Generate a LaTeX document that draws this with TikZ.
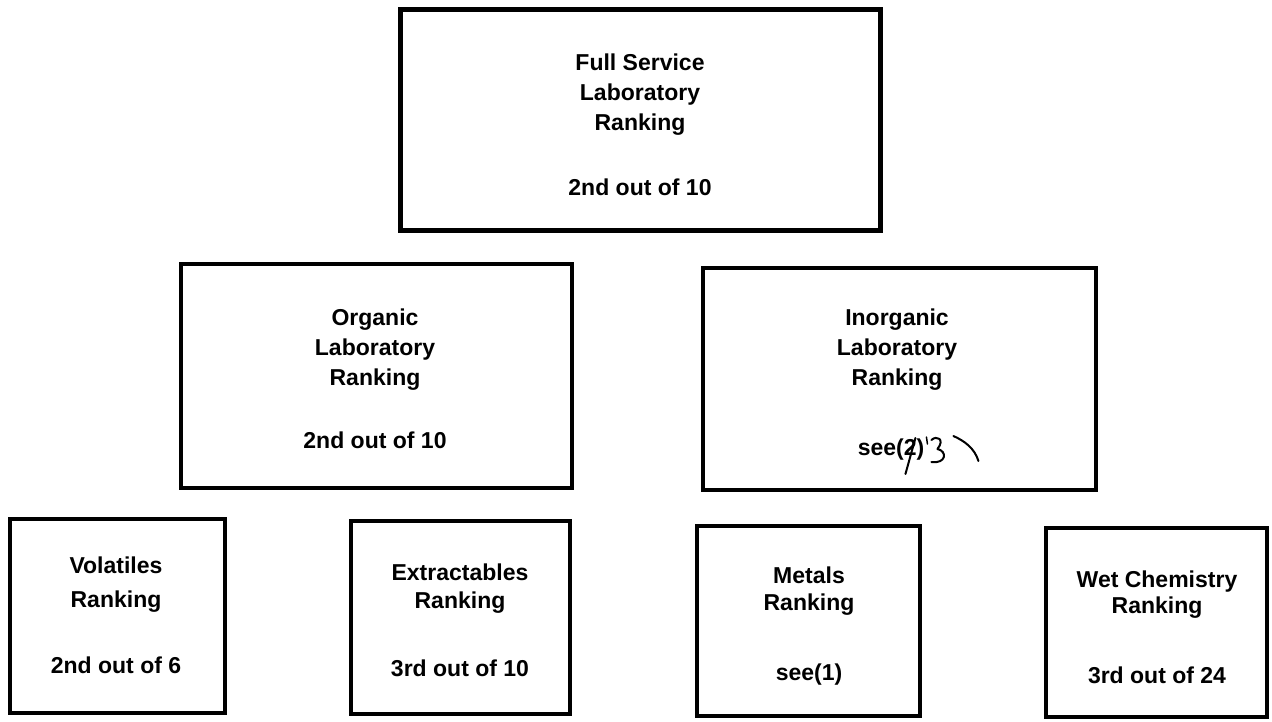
\documentclass[tikz,border=0pt]{standalone}
\usepackage{fontspec}
\setmainfont{Liberation Sans}
\begin{document}
\begin{tikzpicture}[x=1pt,y=-1pt,
  box/.style={draw, line width=4.5pt, inner sep=0pt},
  lbl/.style={align=center, inner sep=0pt, font=\bfseries\fontsize{23}{#1}\selectfont},
  lbl/.default=30,
  pen/.style={line width=2pt, line cap=round, line join=round}]
\useasboundingbox (0,0) rectangle (1272,721);

% top level
\node[box, line width=5pt, minimum width=480pt, minimum height=221pt] (full) at (640,119.5) {};
\node[lbl=30] (fullT) at (640,124.5) {Full Service\\Laboratory\\Ranking\\[35pt]2nd out of 10};

% second level
\node[box, minimum width=391pt, minimum height=224pt] (org) at (376.5,376) {};
\node[lbl=30] (orgT) at (375,378.5) {Organic\\Laboratory\\Ranking\\[33pt]2nd out of 10};

\node[box, minimum width=393pt, minimum height=222pt] (inorg) at (899.5,379) {};
\node[lbl=30] (inorgT) at (897,350) {Inorganic\\Laboratory\\Ranking};
\node[lbl] (isee) at (891,450) {see(2)};
% hand-written correction of the reference number
\begin{scope}[shift={(isee.east)}]
  \draw[pen] (-9,-12) -- (-19,24);
  \draw[pen, line width=1.5pt] (2,-13) -- (3,-6);
  \draw[pen] (7,-10) .. controls (12,-15) and (21,-11) .. (13,-1)
        .. controls (23,1) and (22,14) .. (7,12);
  \draw[pen] (29,-14) .. controls (40,-9) and (50,-2) .. (54,11);
\end{scope}

% third level
\node[box, minimum width=215pt, minimum height=194pt] (vol) at (117.5,616) {};
\node[lbl=34] (volT) at (116,615.5) {Volatiles\\Ranking\\[32pt]2nd out of 6};

\node[box, minimum width=219pt, minimum height=193pt] (ext) at (460.5,617.5) {};
\node[lbl=28] (extT) at (460,620.5) {Extractables\\Ranking\\[40pt]3rd out of 10};

\node[box, minimum width=223pt, minimum height=190pt] (met) at (808.5,621) {};
\node[lbl=27] (metT) at (809,626) {Metals\\Ranking\\[43pt]see(1)};

\node[box, minimum width=221pt, minimum height=189pt] (wet) at (1156.5,622.5) {};
\node[lbl=26] (wetT) at (1157,627.5) {Wet Chemistry\\Ranking\\[44pt]3rd out of 24};
\end{tikzpicture}
\end{document}
